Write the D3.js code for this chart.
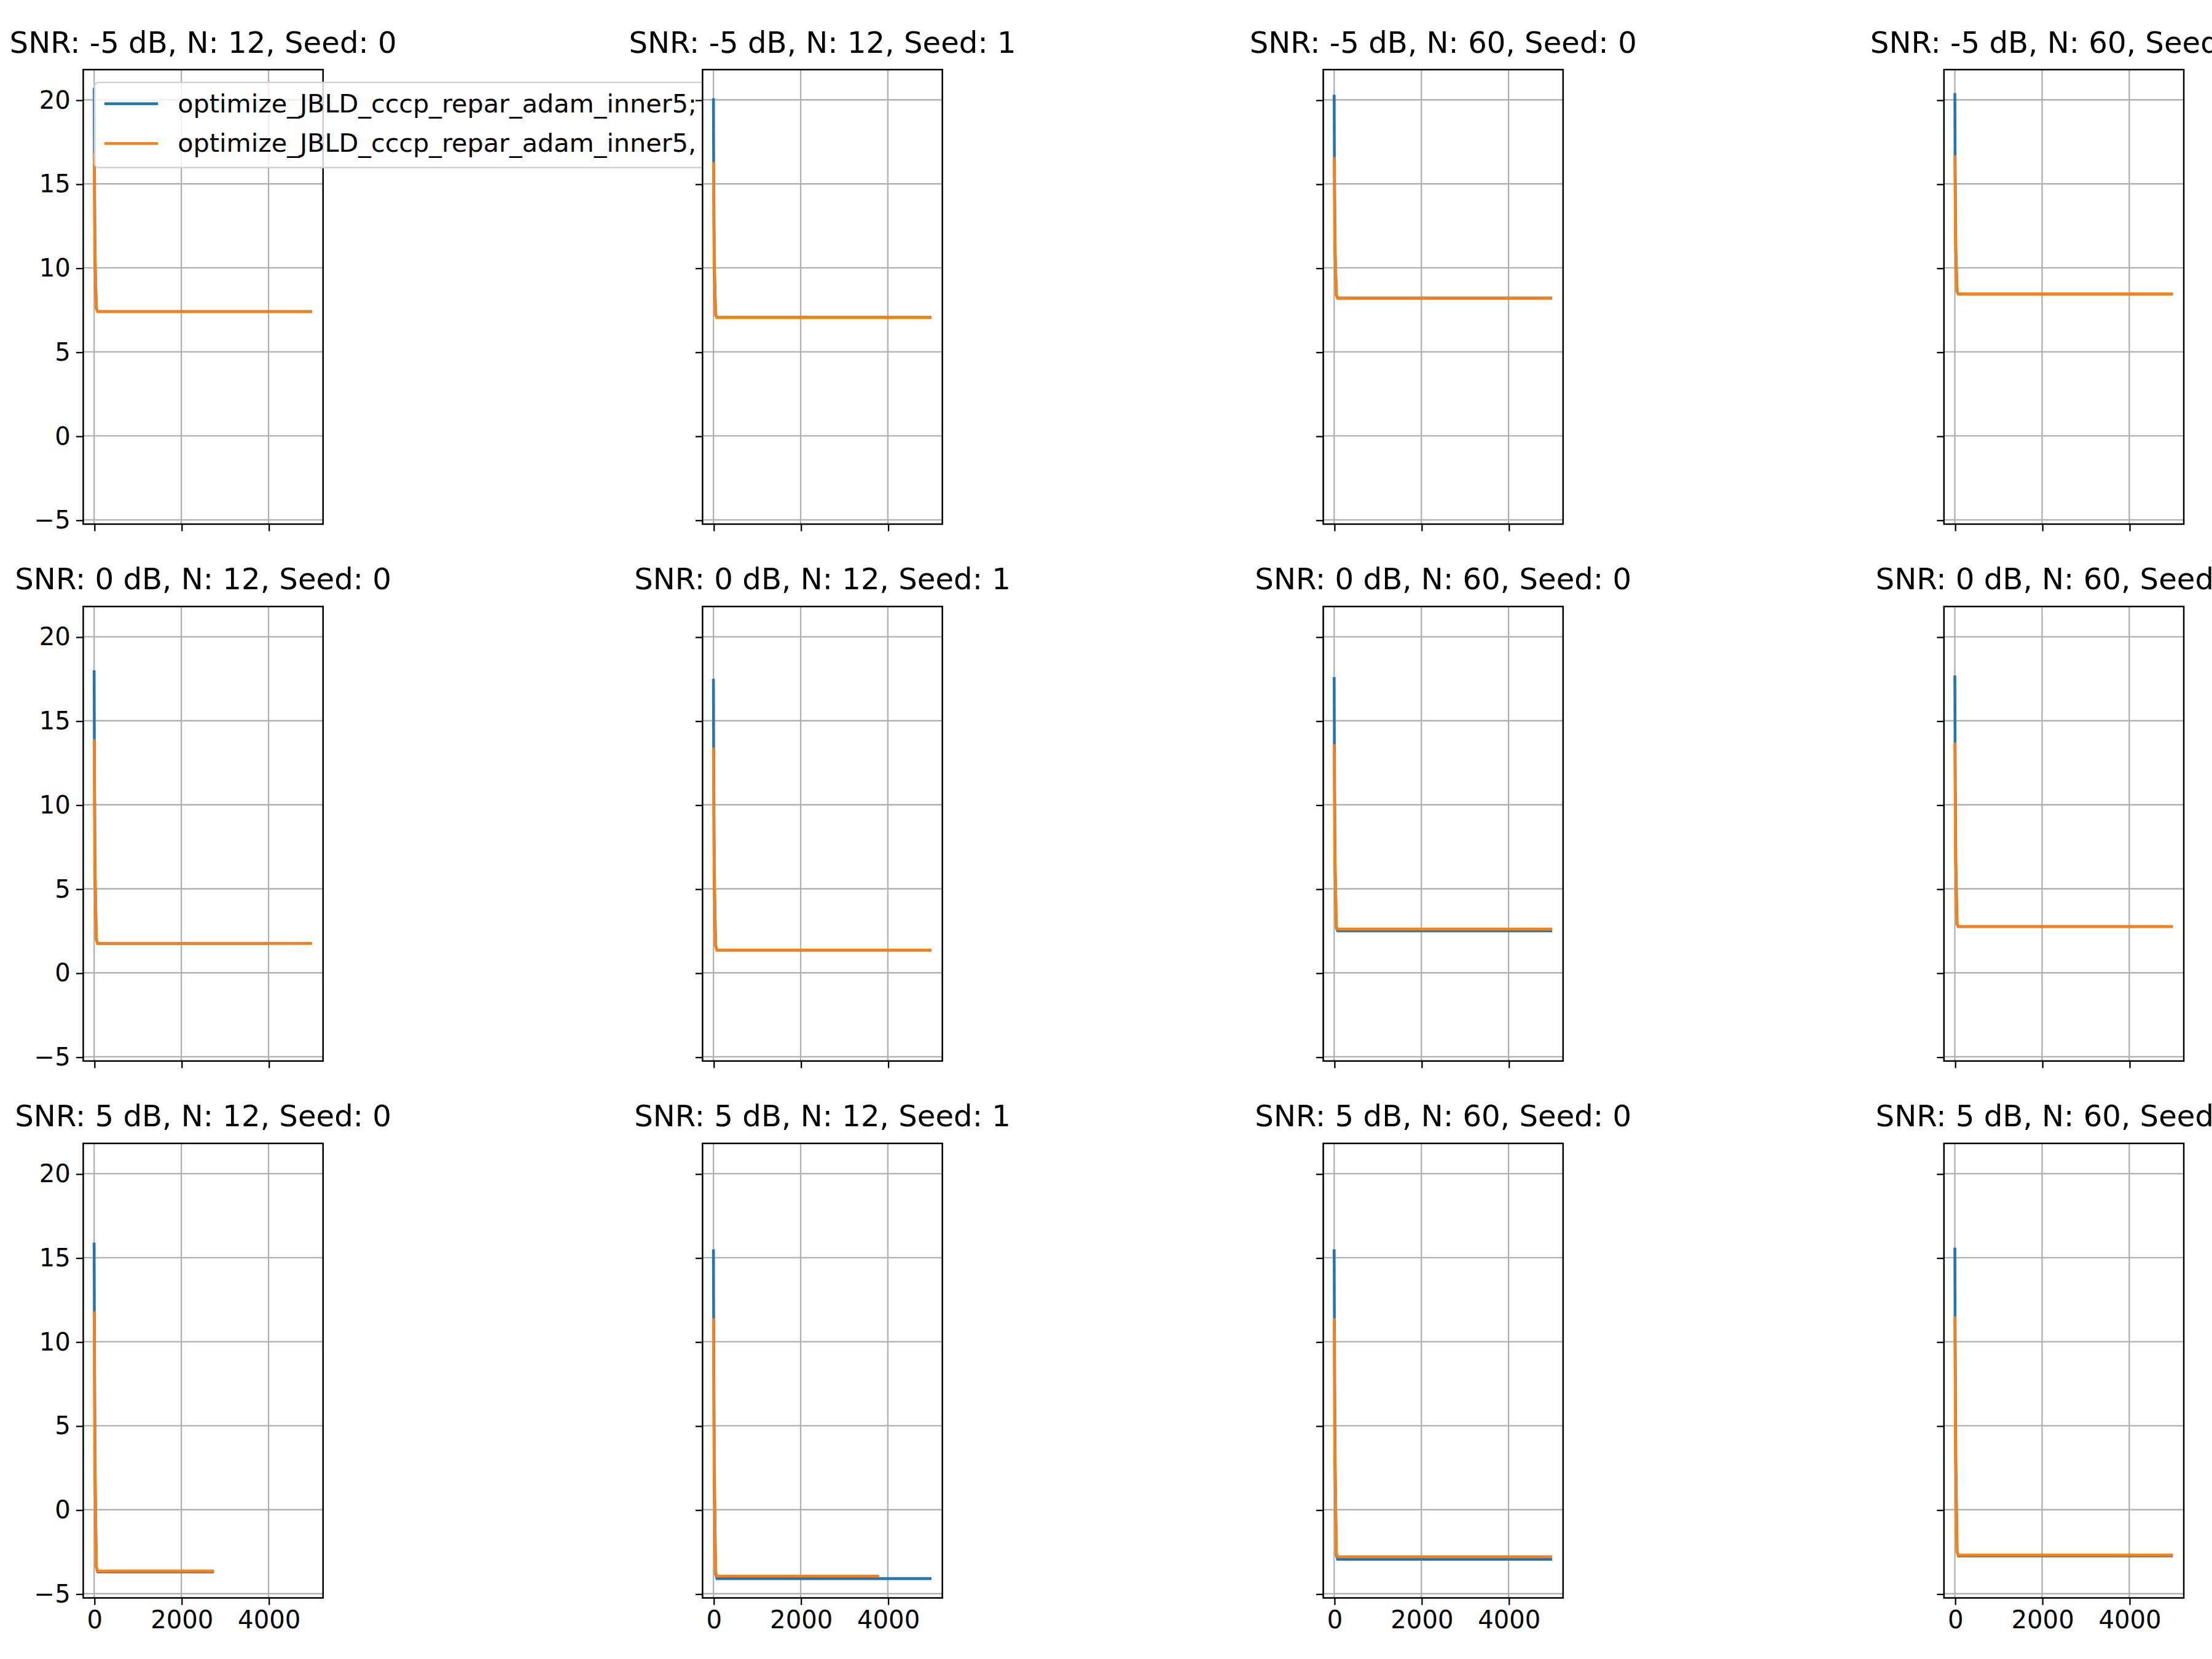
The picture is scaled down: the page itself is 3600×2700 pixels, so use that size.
<!DOCTYPE html>
<html>
<head>
<meta charset="UTF-8">
<script src="https://cdnjs.cloudflare.com/ajax/libs/d3/7.8.5/d3.min.js"></script>
<style>
  body { margin: 0; background: #fff; }
  text { font-family: "DejaVu Sans", sans-serif; }
</style>
</head>
<body>
<div id="chart"></div>
<script>
// panel grid
var snrs = [-5, 0, 5];
var panelCols = [
  { n: 12, seed: 0 },
  { n: 12, seed: 1 },
  { n: 60, seed: 0 },
  { n: 60, seed: 1 }
];
var legendLabels = ["optimize_JBLD_cccp_repar_adam_inner5;", "optimize_JBLD_cccp_repar_adam_inner5,"];
var yTicks = [-5, 0, 5, 10, 15, 20];
var xTicks = [0, 2000, 4000];

// knot iterations of each curve (last one = where the run stopped)
// blue series, row by row, 4 panels per row
var blueIters = [
  [0, 5, 20, 50, 80, 5000], [0, 5, 20, 50, 80, 5000], [0, 5, 20, 50, 80, 5000], [0, 5, 20, 50, 80, 5000],
  [0, 5, 20, 50, 80, 4000], [0, 5, 20, 50, 80, 5000], [0, 5, 20, 50, 80, 5000], [0, 5, 20, 50, 80, 5000],
  [0, 5, 20, 50, 80, 2750], [0, 5, 20, 50, 80, 5000], [0, 5, 20, 50, 80, 5000], [0, 5, 20, 50, 80, 5000]
];
var blueVals = [
  [20.7, 16.8, 10.5, 7.6, 7.4, 7.4], [20.1, 16.3, 10.0, 7.2, 7.05, 7.05], [20.3, 16.6, 11.0, 8.4, 8.2, 8.2], [20.4, 16.7, 11.2, 8.6, 8.45, 8.45],
  [18.0, 13.9, 6.0, 2.0, 1.75, 1.75], [17.5, 13.4, 5.5, 1.6, 1.35, 1.35], [17.6, 13.6, 6.5, 2.7, 2.5, 2.5], [17.7, 13.7, 6.7, 2.9, 2.75, 2.75],
  [15.9, 11.8, 2.5, -3.4, -3.7, -3.7], [15.5, 11.4, 2.0, -3.8, -4.1, -4.1], [15.5, 11.4, 3.0, -2.7, -2.95, -2.95], [15.6, 11.5, 3.2, -2.5, -2.75, -2.75]
];
var orangeIters = [
  [0, 15, 50, 80, 5000], [0, 15, 50, 80, 5000], [0, 15, 50, 80, 5000], [0, 15, 50, 80, 5000],
  [0, 15, 50, 80, 5000], [0, 15, 50, 80, 5000], [0, 15, 50, 80, 5000], [0, 15, 50, 80, 5000],
  [0, 15, 50, 80, 2750], [0, 15, 50, 80, 3800], [0, 15, 50, 80, 5000], [0, 15, 50, 80, 5000]
];
var orangeVals = [
  [16.8, 11.0, 7.6, 7.4, 7.4], [16.3, 10.5, 7.2, 7.05, 7.05], [16.6, 11.5, 8.4, 8.2, 8.2], [16.7, 11.7, 8.6, 8.45, 8.45],
  [13.9, 6.5, 2.0, 1.75, 1.75], [13.4, 6.0, 1.6, 1.35, 1.35], [13.6, 7.0, 2.8, 2.6, 2.6], [13.7, 7.2, 2.9, 2.75, 2.75],
  [11.8, 3.0, -3.4, -3.65, -3.65], [11.4, 2.5, -3.7, -3.95, -3.95], [11.4, 3.5, -2.6, -2.8, -2.8], [11.5, 3.7, -2.45, -2.7, -2.7]
];

var BLUE = "#1f77b4", ORANGE = "#ff7f0e";

// layout in a 1568x1168 frame, stretched to 3600x2700
var W = 1568, H = 1168;
var colLeft = [59, 498, 938, 1378], axW = 170;
var rowTop = [49, 427, 805], axH = 320;

var svg = d3.select("#chart").append("svg")
  .attr("width", 3600).attr("height", 2700)
  .attr("viewBox", "0 0 " + W + " " + H)
  .attr("preserveAspectRatio", "none");
svg.append("rect").attr("width", W).attr("height", H).attr("fill", "#fff");

var x = d3.scaleLinear().domain([-250, 5250]).range([0, axW]);
var y = d3.scaleLinear().domain([-5.25, 21.8]).range([axH, 0]);
var line = d3.line().x(d => x(d[0])).y(d => y(d[1]));

function drawPanel(r, c) {
  var k = r * 4 + c;
  var g = svg.append("g").attr("transform", "translate(" + colLeft[c] + "," + rowTop[r] + ")");
  g.append("rect").attr("width", axW).attr("height", axH).attr("fill", "#fff");

  g.append("g").selectAll("line").data(xTicks).join("line")
    .attr("x1", d => x(d)).attr("x2", d => x(d)).attr("y1", 0).attr("y2", axH)
    .attr("stroke", "#b0b0b0").attr("stroke-width", 1);
  g.append("g").selectAll("line").data(yTicks).join("line")
    .attr("y1", d => y(d)).attr("y2", d => y(d)).attr("x1", 0).attr("x2", axW)
    .attr("stroke", "#b0b0b0").attr("stroke-width", 1);

  var blue = blueIters[k].map((t, i) => [t, blueVals[k][i]]);
  var orange = orangeIters[k].map((t, i) => [t, orangeVals[k][i]]);
  g.append("path").attr("d", line(blue)).attr("fill", "none").attr("stroke", BLUE).attr("stroke-width", 2);
  g.append("path").attr("d", line(orange)).attr("fill", "none").attr("stroke", ORANGE).attr("stroke-width", 2);

  var ya = d3.axisLeft(y).tickValues(yTicks).tickSize(5).tickPadding(4)
    .tickFormat(c === 0 ? (d => d < 0 ? "\u2212" + (-d) : d) : "");
  var yg = g.append("g").call(ya);
  var xa = d3.axisBottom(x).tickValues(xTicks).tickSize(5).tickPadding(4)
    .tickFormat(r === 2 ? d3.format("d") : "");
  var xg = g.append("g").attr("transform", "translate(0," + axH + ")").call(xa);
  [yg, xg].forEach(a => {
    a.select(".domain").remove();
    a.selectAll("line").attr("stroke", "#000").attr("stroke-width", 1);
    a.selectAll("text").attr("font-size", 17.5).attr("fill", "#000")
      .attr("font-family", "DejaVu Sans, sans-serif");
  });

  g.append("rect").attr("width", axW).attr("height", axH)
    .attr("fill", "none").attr("stroke", "#000").attr("stroke-width", 1.1);

  g.append("text").attr("x", axW / 2).attr("y", -12).attr("text-anchor", "middle")
    .attr("font-size", 21).attr("fill", "#000")
    .text("SNR: " + snrs[r] + " dB, N: " + panelCols[c].n + ", Seed: " + panelCols[c].seed);

  if (k === 0) {
    var lg = g.append("g").attr("transform", "translate(8,9)");
    lg.append("rect").attr("width", 440).attr("height", 60).attr("rx", 3)
      .attr("fill", "#fff").attr("fill-opacity", 0.8).attr("stroke", "#d0d0d0");
    [BLUE, ORANGE].forEach((col, i) => {
      var yy = 15 + i * 28;
      lg.append("line").attr("x1", 7).attr("x2", 45).attr("y1", yy).attr("y2", yy)
        .attr("stroke", col).attr("stroke-width", 2);
      lg.append("text").attr("x", 59).attr("y", yy + 6).attr("font-size", 18).attr("fill", "#000")
        .text(legendLabels[i]);
    });
  }
}

// draw column by column so later panels sit over the legend
for (var c = 0; c < 4; c++) for (var r = 0; r < 3; r++) drawPanel(r, c);
</script>
</body>
</html>
